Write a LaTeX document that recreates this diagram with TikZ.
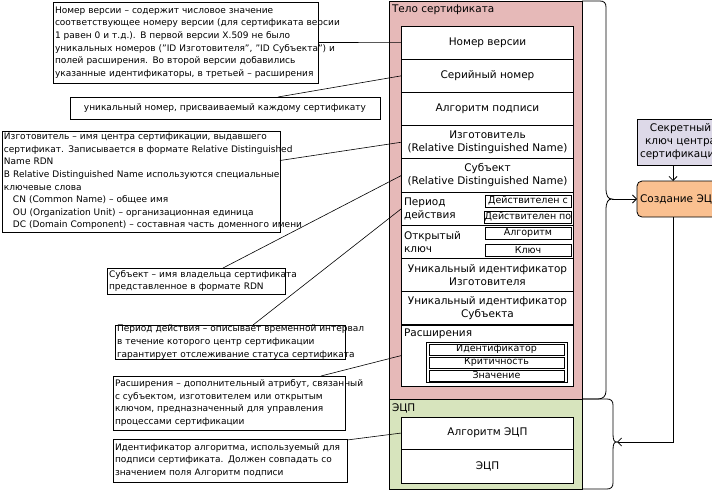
\documentclass[tikz,border=0pt]{standalone}
\usepackage{fontspec}
\setmainfont{DejaVu Sans}
\usetikzlibrary{arrows.meta}
\definecolor{bodyfill}{RGB}{230,185,184}
\definecolor{sigfill}{RGB}{215,228,189}
\definecolor{keyfill}{RGB}{221,217,232}
\definecolor{makefill}{RGB}{250,192,144}

\begin{document}
\begin{tikzpicture}[x=1pt, y=-1pt,
    every node/.style={inner sep=0pt, outer sep=0pt},
    area/.style={draw, line width=0.8pt},
    field/.style={draw, fill=white, line width=0.7pt, minimum width=172pt,
                  minimum height=33.2pt, align=center,
                  font=\fontsize{10.5}{13}\selectfont},
    subbox/.style={draw, fill=white, line width=0.7pt, minimum width=86pt,
                   minimum height=12pt, font=\fontsize{9.5}{11}\selectfont},
    extbox/.style={draw, fill=white, line width=0.7pt, minimum width=135pt,
                   minimum height=11pt, font=\fontsize{9.5}{11}\selectfont},
    caption/.style={anchor=west, align=left, font=\fontsize{10.5}{12.5}\selectfont},
    note/.style={draw, fill=white, line width=0.7pt, anchor=north west,
                 align=left, inner xsep=2pt,
                 font=\fontsize{9}{12.6}\selectfont},
    link/.style={line width=0.6pt},
    brace/.style={line width=0.8pt},
    flow/.style={line width=0.8pt, -{Straight Barb[length=4pt, width=8pt]}}
  ]
  \useasboundingbox (0,0) rectangle (712,490);
  \clip (0,0) rectangle (712,490);

  % certificate body
  \node[area, fill=bodyfill, minimum width=193pt, minimum height=398pt] (body) at (485.5,200) {};
  \node[caption] (bodytitle) at (392,10) {Тело сертификата};
  \node[field] (ver)     at (487.5,42.6)  {Номер версии};
  \node[field] (serial)  at (487.5,75.8)  {Серийный номер};
  \node[field] (signalg) at (487.5,109)   {Алгоритм подписи};
  \node[field] (issuer)  at (487.5,142.2) {Изготовитель\\(Relative Distinguished Name)};
  \node[field] (subject) at (487.5,175.4) {Субъект\\(Relative Distinguished Name)};
  \node[field] (period)  at (487.5,208.6) {};
  \node[field] (pubkey)  at (487.5,241.8) {};
  \node[field] (issuid)  at (487.5,275)   {Уникальный идентификатор\\Изготовителя};
  \node[field] (subjuid) at (487.5,308.2) {Уникальный идентификатор\\Субъекта};
  \node[field, minimum height=61pt] (ext) at (487.5,355.5) {};

  \node[caption] (periodlbl) at (404,209) {Период\\действия};
  \node[subbox] (validfrom) at (528,201) {Действителен с};
  \node[subbox] (validto)   at (528,217) {Действителен по};
  \node[caption] (keylbl) at (404,242) {Открытый\\ключ};
  \node[subbox] (keyalg) at (528,233.5) {Алгоритм};
  \node[subbox] (keyval) at (528,250)   {Ключ};
  \node[caption] (extlbl) at (404,334) {Расширения};
  \node[draw, fill=white, line width=0.7pt, minimum width=141pt, minimum height=40pt] (extgroup) at (496.5,362) {};
  \node[extbox] (extid)   at (496.5,349.5) {Идентификатор};
  \node[extbox] (extcrit) at (496.5,362.5) {Критичность};
  \node[extbox] (extval)  at (496.5,375.5) {Значение};

  % signature
  \node[area, fill=sigfill, minimum width=193pt, minimum height=90pt] (sig) at (485.5,444) {};
  \node[caption] (sigtitle) at (392,408) {ЭЦП};
  \node[field, minimum height=32pt] (sigalg) at (487.5,433) {Алгоритм ЭЦП};
  \node[field, minimum height=34pt] (sigval) at (487.5,466) {ЭЦП};

  % signing
  \node[draw, fill=keyfill, line width=0.8pt, anchor=west, align=center, inner xsep=3pt,
        minimum height=46pt, font=\fontsize{10.5}{13}\selectfont] (key) at (637,142)
        {Секретный\\ключ центра\\сертификации};
  \node[draw, fill=makefill, line width=0.8pt, rounded corners=5pt, anchor=west, inner xsep=3pt,
        minimum height=36pt, font=\fontsize{10.5}{13}\selectfont] (make) at (637,199) {Создание ЭЦП};

  \coordinate (bodytip) at (612,199);
  \coordinate (sigtip) at (617,442);
  \draw[brace] (body.north east) -- (600,1) .. controls (604,1) and (606,3) .. (606,7)
    -- (606,188) .. controls (606,196) and (608,199) .. (bodytip)
    .. controls (608,199) and (606,202) .. (606,210)
    -- (606,391) .. controls (606,396) and (603,399) .. (598,399) -- (body.south east);
  \draw[brace] (sig.north east) -- (607,399) .. controls (611,399) and (613,401) .. (613,405)
    -- (613,434) .. controls (613,440) and (614,442) .. (sigtip)
    .. controls (614,442) and (613,444) .. (613,450)
    -- (613,483) .. controls (613,487) and (611,489) .. (607,489) -- (sig.south east);
  \draw[flow] (bodytip) -- (make.west);
  \draw[flow] ([xshift=36pt]key.south west) -- ([xshift=36pt]make.north west);
  \draw[flow] ([xshift=36pt]make.south west) |- (sigtip);

  % notes
  \node[note, text width=261pt, minimum height=81pt] (vernote) at (53,2)
    {Номер версии – содержит числовое значение\\
     \mbox{соответствующее номеру версии (для сертификата версии}\\
     1 равен 0 и т.д.). В первой версии X.509 не было\\
     \mbox{уникальных номеров ("ID Изготовителя", "ID Субъекта") и}\\
     полей расширения. Во второй версии добавились\\
     \mbox{указанные идентификаторы, в третьей – расширения}};
  \node[draw, fill=white, line width=0.7pt, minimum width=310pt, minimum height=22pt,
        font=\fontsize{9}{12.6}\selectfont, anchor=north west] (uidnote) at (70,97)
    {уникальный номер, присваиваемый каждому сертификату};
  \node[note, text width=274pt, minimum height=101pt] (issnote) at (2,131)
    {Изготовитель – имя центра сертификации, выдавшего\\
     \mbox{сертификат. Записывается в формате Relative Distinguished}\\
     Name RDN\\
     \mbox{В Relative Distinguished Name используются специальные}\\
     ключевые слова\\
     \hspace*{1em}CN (Common Name) – общее имя\\
     \hspace*{1em}\mbox{OU (Organization Unit) – организационная единица}\\
     \hspace*{1em}\mbox{DC (Domain Component) – составная часть доменного имени}};
  \node[note, text width=174pt, minimum height=26pt] (subjnote) at (107,268)
    {\mbox{Субъект – имя владельца сертификата}\\представленное в формате RDN};
  \node[note, text width=226pt, minimum height=34pt] (pernote) at (115,325)
    {\mbox{Период действия – описывает временной интервал}\\
     \mbox{в течение которого центр сертификации}\\
     \mbox{гарантирует отслеживание статуса сертификата}};
  \node[note, text width=228pt, minimum height=54pt] (extnote) at (113,376)
    {\mbox{Расширения – дополнительный атрибут, связанный}\\
     \mbox{с субъектом, изготовителем или открытым}\\
     \mbox{ключом, предназначенный для управления}\\
     процессами сертификации};
  \node[note, text width=230pt, minimum height=43pt] (algnote) at (113,439)
    {\mbox{Идентификатор алгоритма, используемый для}\\
     \mbox{подписи сертификата. Должен совпадать со}\\
     значением поля Алгоритм подписи};

  \draw[link] (vernote.east) -- (ver.west);
  \draw[link] ([xshift=53pt]uidnote.north) -- (serial.west);
  \draw[link] ([yshift=21pt]issnote.east) -- (issuer.west);
  \draw[link] ([xshift=27pt]subjnote.north) -- (subject.west);
  \draw[link] ([xshift=23pt]pernote.north) -- (period.west);
  \draw[link] ([xshift=-24pt]extnote.north east) -- (ext.west);
  \draw[link] ([yshift=-1pt]algnote.north east) -- (sigalg.west);
\end{tikzpicture}
\end{document}
